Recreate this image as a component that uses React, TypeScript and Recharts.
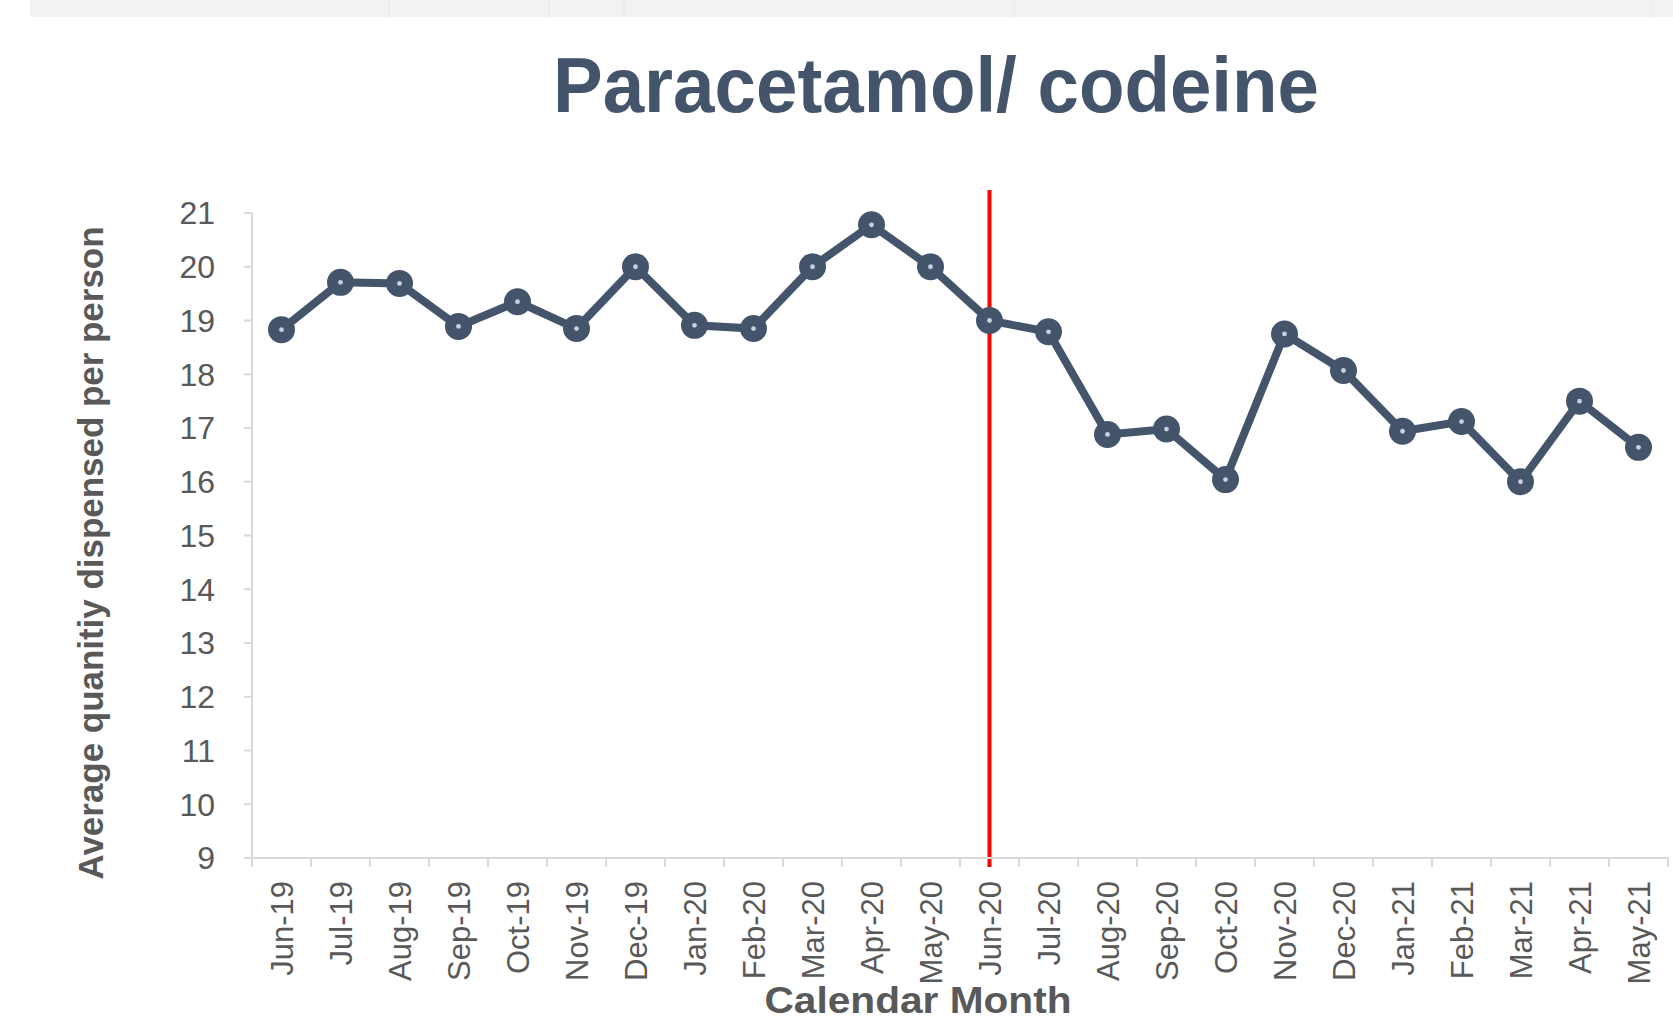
import React from "react"
import { LineChart, Line, XAxis, YAxis, ReferenceLine } from "recharts"

const months = [
  "Jun-19", "Jul-19", "Aug-19", "Sep-19", "Oct-19", "Nov-19", "Dec-19", "Jan-20",
  "Feb-20", "Mar-20", "Apr-20", "May-20", "Jun-20", "Jul-20", "Aug-20", "Sep-20",
  "Oct-20", "Nov-20", "Dec-20", "Jan-21", "Feb-21", "Mar-21", "Apr-21", "May-21",
]

const avgQuantity = [
  18.83, 19.71, 19.69, 18.89, 19.35, 18.85, 20.0, 18.91,
  18.85, 20.0, 20.78, 20.0, 19.0, 18.79, 16.88, 16.98,
  16.04, 18.75, 18.07, 16.94, 17.12, 16.0, 17.5, 16.64,
]

const yTicks = [9, 10, 11, 12, 13, 14, 15, 16, 17, 18, 19, 20, 21]

const changeMonth = "Jun-20"

const chartData = months.map((month, i) => ({ month, value: avgQuantity[i] }))

// layout (page pixels)
const W = 1673
const H = 1025
const PLOT_LEFT = 252
const PLOT_RIGHT = 1668
const PLOT_TOP = 213
const PLOT_BOTTOM = 858
const HALF_BAND = (PLOT_RIGHT - PLOT_LEFT) / months.length / 2

const FONT = '"Liberation Sans", Arial, sans-serif'
const DARK = "#44546A"
const GREY_TEXT = "#595959"
const AXIS = "#D9D9D9"

// excel-style: tick marks sit between categories, labels rotated
const MonthTick = (props: any) => {
  const { x, y, payload, index } = props
  const last = index === months.length - 1
  return (
    <g>
      <line x1={x - HALF_BAND} x2={x - HALF_BAND} y1={y} y2={y + 9} stroke={AXIS} strokeWidth={2} />
      {last && <line x1={x + HALF_BAND} x2={x + HALF_BAND} y1={y} y2={y + 9} stroke={AXIS} strokeWidth={2} />}
      <text
        x={x}
        y={y + 23}
        transform={`rotate(-90, ${x}, ${y + 23})`}
        textAnchor="end"
        dy="0.36em"
        fontSize={31}
        fontFamily={FONT}
        fill={GREY_TEXT}
      >
        {payload.value}
      </text>
    </g>
  )
}

const Marker = (props: any) => {
  const { cx, cy, index } = props
  if (cx == null || cy == null) return <g key={index} />
  return (
    <g key={index}>
      <circle cx={cx} cy={cy} r={13.5} fill={DARK} />
      <circle cx={cx} cy={cy} r={2.4} fill="#C9D1DD" />
    </g>
  )
}

const ChangeLine = (p: any) => (
  <line
    x1={p.x1}
    x2={p.x2}
    y1={Math.min(p.y1, p.y2) - 23}
    y2={Math.max(p.y1, p.y2) + 9}
    stroke="#FF0000"
    strokeWidth={4}
  />
)

export default function App() {
  return (
    <div style={{ position: "absolute", left: 0, top: 0, width: W, height: H, background: "#fff", overflow: "hidden" }}>
      {/* top grey band + title */}
      <svg width={W} height={H} style={{ position: "absolute", left: 0, top: 0 }}>
        <rect x={30} y={0} width={W - 30} height={17} fill="#F2F2F2" />
        {[389, 549, 624, 1014, 1652].map((lx) => (
          <line key={lx} x1={lx} x2={lx} y1={0} y2={17} stroke="#E8E8E8" strokeWidth={1} />
        ))}
        <text
          x={936}
          y={112}
          textAnchor="middle"
          fontFamily={FONT}
          fontWeight="bold"
          fontSize={78}
          fill={DARK}
          textLength={766}
          lengthAdjust="spacingAndGlyphs"
        >
          Paracetamol/ codeine
        </text>
      </svg>
      <div style={{ position: "absolute", left: 0, top: 0 }}>
        <LineChart
          width={W}
          height={H}
          data={chartData}
          margin={{ top: PLOT_TOP, right: W - PLOT_RIGHT, bottom: 0, left: 0 }}
        >
          <XAxis
            dataKey="month"
            scale="band"
            interval={0}
            height={H - PLOT_BOTTOM}
            stroke={AXIS}
            strokeWidth={2}
            tickLine={false}
            tickSize={0}
            tickMargin={0}
            tick={<MonthTick />}
            label={{
              content: () => (
                <text
                  x={918}
                  y={1013}
                  textAnchor="middle"
                  fontFamily={FONT}
                  fontWeight="bold"
                  fontSize={36}
                  fill={GREY_TEXT}
                  textLength={307}
                  lengthAdjust="spacingAndGlyphs"
                >
                  Calendar Month
                </text>
              ),
            }}
          />
          <YAxis
            domain={[9, 21]}
            ticks={yTicks}
            interval={0}
            width={PLOT_LEFT}
            stroke={AXIS}
            strokeWidth={2}
            tickLine={{ stroke: AXIS, strokeWidth: 2 }}
            tickSize={8}
            tickMargin={29}
            tick={{ fill: GREY_TEXT, fontSize: 32, fontFamily: FONT }}
            label={{
              content: () => (
                <text
                  x={103}
                  y={553}
                  transform="rotate(-90, 103, 553)"
                  textAnchor="middle"
                  fontFamily={FONT}
                  fontWeight="bold"
                  fontSize={35}
                  fill={GREY_TEXT}
                  textLength={653}
                  lengthAdjust="spacingAndGlyphs"
                >
                  Average quanitiy dispensed per person
                </text>
              ),
            }}
          />
          <ReferenceLine x={changeMonth} shape={ChangeLine} />
          <Line
            type="linear"
            dataKey="value"
            stroke={DARK}
            strokeWidth={8}
            dot={Marker}
            activeDot={false}
            isAnimationActive={false}
          />
        </LineChart>
      </div>
    </div>
  )
}
